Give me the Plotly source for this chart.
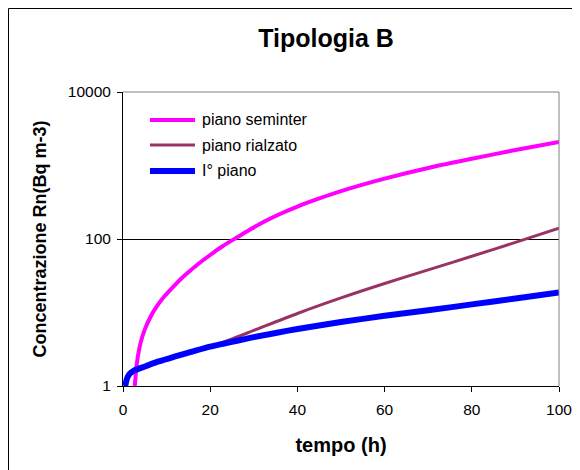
import plotly.graph_objects as go

# piano seminterrato
t_seminter = [2.7, 3.2, 4.0, 5.0, 6.3, 7.7, 9.5, 11.5, 13.5, 15.4, 17.3, 19.2, 21, 23, 26,
              29, 32, 36, 40, 45, 50, 60, 70, 80, 90, 100]
rn_seminter = [1.0, 2.07, 3.8, 5.9, 8.7, 12, 16.6, 22.4, 29.5, 37, 46, 56, 67, 81, 104,
               133, 168, 219, 276, 356, 448, 662, 925, 1233, 1622, 2089]

# piano rialzato
t_rialzato = [0.5, 1.0, 1.6, 2.5, 4.0, 6.0, 8.0, 11.5, 15.4, 20, 25, 30, 40,
              50, 60, 70, 80, 90, 100]
rn_rialzato = [1.0, 1.3, 1.48, 1.62, 1.75, 1.94, 2.14, 2.48, 2.88, 3.43, 4.37, 5.7, 9.7,
               15.8, 24.8, 38, 58.2, 90, 140]

# I piano
t_primo = [0.5, 1.0, 1.6, 2.5, 4.0, 6.0, 8.0, 11.5, 15.4, 20, 25, 30, 35, 40,
           50, 60, 70, 80, 90, 100]
rn_primo = [1.0, 1.3, 1.48, 1.62, 1.75, 1.94, 2.14, 2.48, 2.88, 3.43, 3.98, 4.62, 5.27, 5.96,
            7.41, 9.02, 10.7, 12.9, 15.5, 18.8]

series_names = ['piano seminter', 'piano rialzato', 'I° piano']
series_colors = ['#FF00FF', '#993366', '#0000FF']
series_widths = [4, 3, 6]

x_ticks = [0, 20, 40, 60, 80, 100]
y_ticks = [1, 100, 10000]
y_labels = ['1', '100', '10000']

FONT = 'Liberation Sans, Arial, sans-serif'

fig = go.Figure()
for t, rn, name, col, w in zip([t_seminter, t_rialzato, t_primo],
                               [rn_seminter, rn_rialzato, rn_primo],
                               series_names, series_colors, series_widths):
    fig.add_trace(go.Scatter(x=t, y=rn, name=name, mode='lines', showlegend=False,
                             line=dict(color=col, width=w, shape='spline', smoothing=0.8)))

# legend drawn by hand (Excel-style long sample lines)
legend_y = [0.9048, 0.8197, 0.7313]
shapes = []
annotations = []
for name, col, w, ly in zip(series_names, series_colors, series_widths, legend_y):
    shapes.append(dict(type='line', xref='paper', yref='paper', x0=0.0619, x1=0.1651,
                       y0=ly, y1=ly, line=dict(color=col, width=w)))
    annotations.append(dict(text=name, xref='paper', yref='paper', x=0.1766, y=ly,
                            xanchor='left', yanchor='middle', showarrow=False,
                            font=dict(size=16)))

# grey plot-area border (top and right)
shapes.append(dict(type='line', xref='paper', yref='paper', x0=0, x1=1, y0=1, y1=1,
                   line=dict(color='#808080', width=1), layer='above'))
shapes.append(dict(type='line', xref='paper', yref='paper', x0=1, x1=1, y0=0, y1=1,
                   line=dict(color='#808080', width=1), layer='above'))
# outer chart frame
shapes.append(dict(type='rect', xref='paper', yref='paper',
                   x0=(0.5 - 115) / 436, x1=(620 - 115) / 436,
                   y0=(378 - 500) / 294, y1=(378 - 0.5) / 294,
                   line=dict(color='black', width=1), layer='below'))

fig.update_layout(
    width=572, height=462,
    margin=dict(l=115, r=21, t=84, b=84),
    paper_bgcolor='white', plot_bgcolor='white',
    font=dict(family=FONT, color='black', size=15.5),
    title=dict(text='<b>Tipologia B</b>', x=318 / 572, xanchor='center',
               y=1 - 30 / 462, yanchor='middle', font=dict(size=25)),
    xaxis=dict(range=[0, 100], tickvals=x_ticks, ticks='outside', ticklen=5,
               tickcolor='black', showline=True, linecolor='black', linewidth=1,
               showgrid=False, zeroline=False, automargin=False, ticklabelstandoff=4,
               title=dict(text='<b>tempo (h)</b>', font=dict(size=20), standoff=21)),
    yaxis=dict(type='log', range=[0, 4], tickvals=y_ticks, ticktext=y_labels,
               ticks='outside', ticklen=5, tickcolor='black',
               showline=True, linecolor='black', linewidth=1,
               showgrid=True, gridcolor='black', gridwidth=1, zeroline=False,
               automargin=False, ticklabelstandoff=3,
               title=dict(text='<b>Concentrazione Rn(Bq m-3)</b>', font=dict(size=18),
                          standoff=16)),
    shapes=shapes,
    annotations=annotations,
)

fig.write_html('out.html')
